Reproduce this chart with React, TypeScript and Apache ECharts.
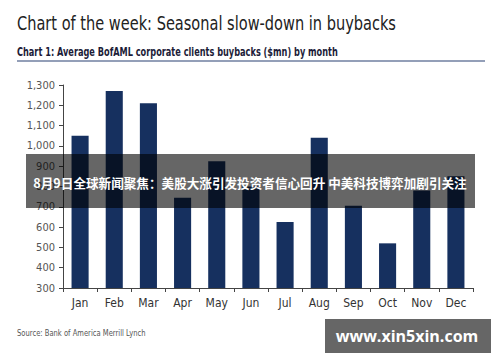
import React, { useEffect, useRef } from "react";
import * as echarts from "echarts";

const months = ["Jan", "Feb", "Mar", "Apr", "May", "Jun", "Jul", "Aug", "Sep", "Oct", "Nov", "Dec"];
const buybacks = [1050, 1270, 1210, 745, 925, 800, 625, 1040, 705, 520, 780, 850];
const yMin = 300;
const yMax = 1300;
const yStep = 100;

const titleText = "Chart of the week: Seasonal slow-down in buybacks";
const subtitleText = "Chart 1: Average BofAML corporate clients buybacks ($mn) by month";
const sourceText = "Source: Bank of America Merrill Lynch";
const bannerText = "8月9日全球新闻聚焦：美股大涨引发投资者信心回升 中美科技博弈加剧引关注";
const watermarkText = "www.xin5xin.com";

const NARROW = "'Liberation Sans Narrow', 'DejaVu Sans Condensed', 'Liberation Sans', Arial, sans-serif";
const CJK = "'Noto Sans CJK SC', 'Noto Sans', sans-serif";

export default function App() {
  const ref = useRef<HTMLDivElement>(null);
  useEffect(() => {
    if (!ref.current) return;
    const chart = echarts.init(ref.current, null, { renderer: "svg" });
    chart.setOption({
      animation: false,
      backgroundColor: "#ffffff",
      grid: { left: 63, right: 27, top: 85, bottom: 74 },
      xAxis: {
        type: "category",
        data: months,
        axisLine: { lineStyle: { color: "#444", width: 1 } },
        axisTick: { show: true, length: 4, lineStyle: { color: "#444" } },
        axisLabel: { color: "#333", fontSize: 12, fontFamily: NARROW, margin: 9 },
      },
      yAxis: {
        type: "value",
        min: yMin,
        max: yMax,
        interval: yStep,
        splitLine: { show: false },
        axisLine: { show: true, lineStyle: { color: "#444", width: 1 } },
        axisTick: { show: true, length: 4, lineStyle: { color: "#444" } },
        axisLabel: {
          color: "#555",
          fontSize: 11,
          fontFamily: NARROW,
          margin: 8,
          formatter: (v: number) => v.toLocaleString("en-US"),
        },
      },
      series: [
        {
          type: "bar",
          data: buybacks,
          barWidth: "50%",
          itemStyle: { color: "#16305f" },
        },
      ],
      graphic: [
        {
          type: "text",
          x: 17,
          y: 13,
          scaleX: 0.81,
          style: { text: titleText, fontSize: 20, fontFamily: NARROW, fill: "#222", verticalAlign: "top" },
        },
        {
          type: "text",
          x: 17,
          y: 46,
          scaleX: 0.76,
          style: { text: subtitleText, fontSize: 12, fontWeight: "bold", fontFamily: NARROW, fill: "#1c1c38", verticalAlign: "top" },
        },
        {
          type: "line",
          shape: { x1: 17, y1: 61, x2: 485, y2: 61 },
          style: { stroke: "#6f7fa0", lineWidth: 1.5 },
        },
        {
          type: "text",
          x: 17,
          y: 328,
          scaleX: 0.84,
          style: { text: sourceText, fontSize: 9, fontFamily: NARROW, fill: "#555", verticalAlign: "top" },
        },
        {
          type: "rect",
          shape: { x: 26, y: 154, width: 449, height: 54 },
          style: { fill: "rgba(0,0,0,0.6)" },
          z: 100,
        },
        {
          type: "text",
          x: 250,
          y: 182,
          style: {
            text: bannerText,
            fontSize: 12.6,
            fontWeight: "bold",
            fontFamily: CJK,
            fill: "#ffffff",
            align: "center",
            verticalAlign: "middle",
          },
          z: 101,
        },
        {
          type: "rect",
          shape: { x: 325, y: 319, width: 166, height: 34 },
          style: { fill: "rgba(0,0,0,0.6)" },
          z: 100,
        },
        {
          type: "text",
          x: 407,
          y: 336,
          style: {
            text: watermarkText,
            fontSize: 16,
            fontWeight: "bold",
            fontFamily: "'Open Sans', 'DejaVu Sans', sans-serif",
            fill: "#ffffff",
            align: "center",
            verticalAlign: "middle",
          },
          z: 101,
        },
      ],
    });
    return () => chart.dispose();
  }, []);
  return <div ref={ref} style={{ width: 500, height: 362, position: "absolute", left: 0, top: 0 }} />;
}
